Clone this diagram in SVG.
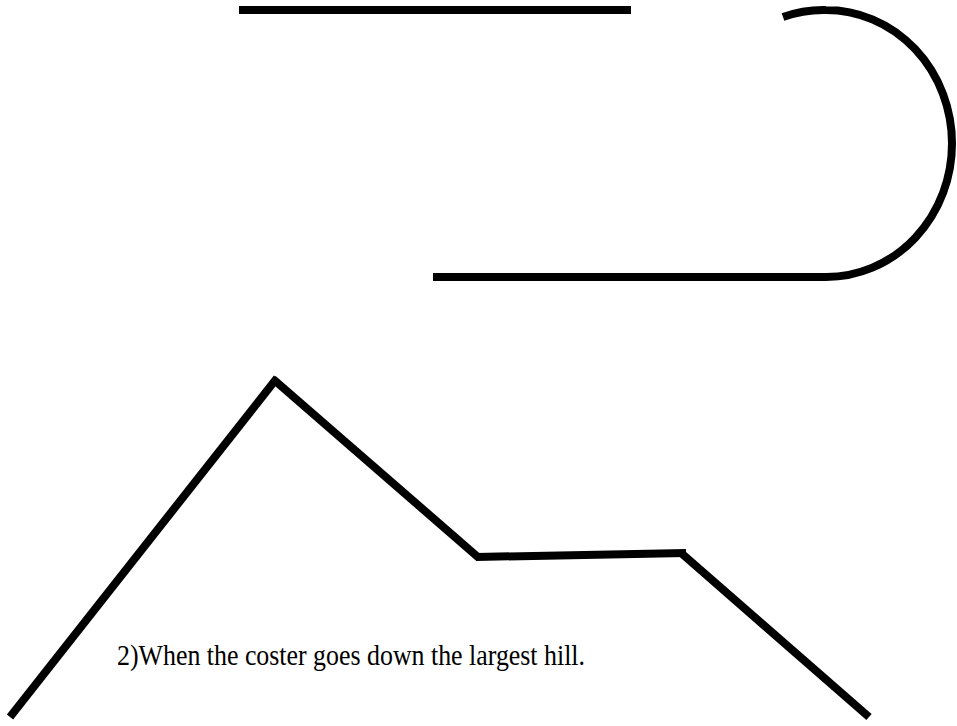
<svg xmlns="http://www.w3.org/2000/svg" width="957" height="726" viewBox="0 0 957 726">
<style>
.trk{fill:none;stroke:#000;stroke-width:8;stroke-linecap:butt}
.lbl{font-family:"Liberation Serif","DejaVu Serif",serif;font-size:30px;fill:#000}
</style>
<rect width="957" height="726" fill="#fff"/>
<g id="connectors">
<line class="trk" x1="239" y1="10" x2="631" y2="10"/>
<path class="trk" d="M 783 17 A 126 133.5 0 0 1 826 10 A 126 133.5 0 0 1 826 277"/>
<line class="trk" x1="433" y1="277" x2="827" y2="277"/>
<line class="trk" x1="10" y1="717" x2="277" y2="378"/>
<line class="trk" x1="273" y1="379" x2="479" y2="558"/>
<line class="trk" x1="476" y1="557" x2="686" y2="553"/>
<line class="trk" x1="680" y1="552" x2="869" y2="717"/>
</g>
<g id="caption">
<text class="lbl" x="117" y="665" textLength="468" lengthAdjust="spacingAndGlyphs">2)When the coster goes down the largest hill.</text>
</g>
</svg>
